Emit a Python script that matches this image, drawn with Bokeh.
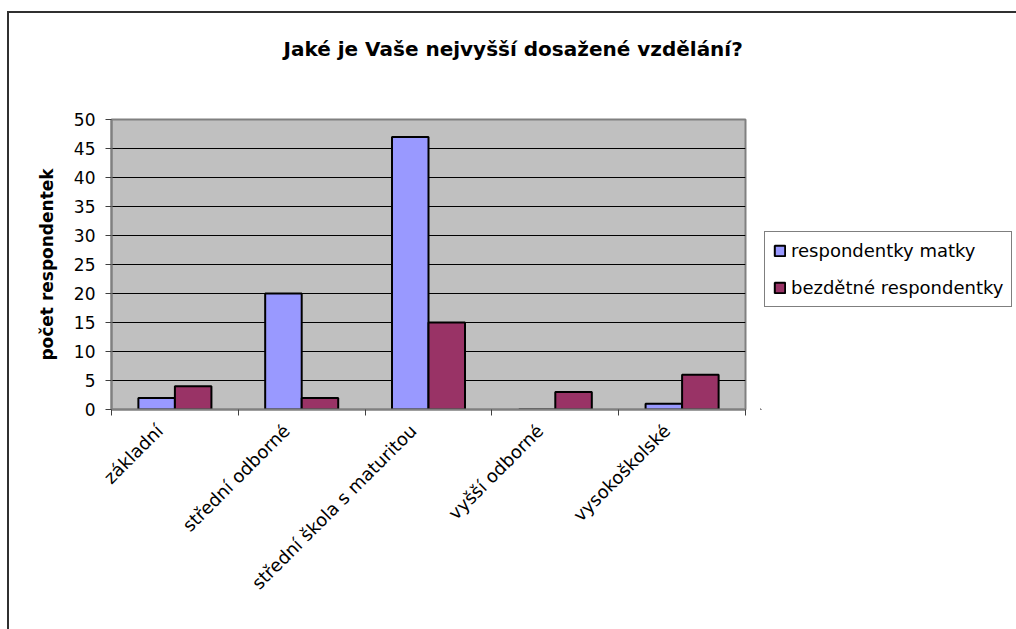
import math
from bokeh.plotting import figure
from bokeh.layouts import row
from bokeh.models import (Range1d, FixedTicker, Legend, LegendItem,
                          ColumnDataSource)
from bokeh.embed import file_html
from bokeh.resources import INLINE

categories = ["základní", "střední odborné", "střední škola s maturitou",
              "vyšší odborné", "vysokoškolské"]
matky = [2, 20, 47, 0, 1]
bezdetne = [4, 2, 15, 3, 6]
series_names = ["respondentky matky", "bezdětné respondentky"]
y_ticks = [0, 5, 10, 15, 20, 25, 30, 35, 40, 45, 50]
title_text = "Jaké je Vaše nejvyšší dosažené vzdělání?"

FONT = "DejaVu Sans"
BLUE = "#9999FF"
RED = "#993366"
BAR_W = 0.288
LABEL_SHIFT = 0.12
BORDER = "2px solid #303030"

p = figure(width=760, height=629, output_backend="svg", toolbar_location=None,
           x_range=Range1d(0.5, 5.5), y_range=Range1d(0, 50),
           min_border_left=111, min_border_right=15,
           min_border_top=119, min_border_bottom=220)
p.background_fill_color = "#C0C0C0"
p.border_fill_color = "white"
p.outline_line_color = "#808080"
p.outline_line_width = 2

# title: extra blank lines push the text up into the chart-area header
p.title.text = title_text + "\n \n "
p.title.text_font = FONT
p.title.text_font_size = "20px"
p.title.text_font_style = "bold"
p.title.text_color = "black"
p.title.align = "left"
p.title.offset = 172
p.title.vertical_align = "top"
p.title.standoff = 18

idx = list(range(1, len(categories) + 1))
src_a = ColumnDataSource(dict(x=[i - BAR_W / 2 for i in idx], top=matky))
src_b = ColumnDataSource(dict(x=[i + BAR_W / 2 for i in idx], top=bezdetne))
r1 = p.vbar(x="x", top="top", width=BAR_W, source=src_a, fill_color=BLUE,
            line_color="black", line_width=2)
r2 = p.vbar(x="x", top="top", width=BAR_W, source=src_b, fill_color=RED,
            line_color="black", line_width=2)

# y axis
p.yaxis.ticker = FixedTicker(ticks=y_ticks)
p.yaxis.major_tick_out = 6
p.yaxis.major_tick_in = 0
p.yaxis.minor_tick_out = 0
p.yaxis.minor_tick_in = 0
p.yaxis.axis_line_color = "#808080"
p.yaxis.axis_line_width = 2
p.yaxis.major_tick_line_color = "#404040"
p.yaxis.major_label_text_font = FONT
p.yaxis.major_label_text_font_size = "17px"
p.yaxis.major_label_text_color = "black"
p.yaxis.major_label_standoff = 10
p.yaxis.axis_label = "počet respondentek"
p.yaxis.axis_label_text_font = FONT
p.yaxis.axis_label_text_font_size = "17px"
p.yaxis.axis_label_text_font_style = "bold"
p.yaxis.axis_label_text_color = "black"
p.yaxis.axis_label_standoff = 14

# x axis: labels near category centres, tick marks between categories
label_pos = [round(i - LABEL_SHIFT, 2) for i in idx]
p.xaxis.ticker = FixedTicker(ticks=label_pos,
                             minor_ticks=[i - 0.5 for i in idx] + [idx[-1] + 0.5])
p.xaxis.major_label_overrides = {lp: c for lp, c in zip(label_pos, categories)}
p.xaxis.major_tick_out = 0
p.xaxis.major_tick_in = 0
p.xaxis.minor_tick_out = 6
p.xaxis.minor_tick_in = 0
p.xaxis.minor_tick_line_color = "#404040"
p.xaxis.axis_line_color = "#808080"
p.xaxis.axis_line_width = 2
p.xaxis.major_label_orientation = math.pi / 4
p.xaxis.major_label_text_font = FONT
p.xaxis.major_label_text_font_size = "18px"
p.xaxis.major_label_text_color = "black"
p.xaxis.major_label_standoff = 12

p.xgrid.grid_line_color = None
p.ygrid.ticker = FixedTicker(ticks=y_ticks)
p.ygrid.grid_line_color = "black"
p.ygrid.grid_line_width = 1

p.stylesheets = [":host::after { content: ''; position: absolute; left: 7px; top: 11px; "
                 "right: 0px; bottom: 0px; border-left: " + BORDER + "; "
                 "border-top: " + BORDER + "; pointer-events: none; z-index: 10; }"]

# legend panel (second figure to the right of the chart; its frame is
# aligned with the chart's frame by the row layout)
p2 = figure(width=256, height=629, output_backend="svg", toolbar_location=None,
            x_range=Range1d(0, 1), y_range=Range1d(0, 1),
            x_axis_location=None, y_axis_location=None, min_border=0)
p2.outline_line_color = None
p2.background_fill_color = "white"
p2.border_fill_color = "white"
p2.xgrid.grid_line_color = None
p2.ygrid.grid_line_color = None
# legend key renderers: one far off-range bar each so the legend can draw its swatch
k1 = p2.vbar(x=[-10], top=[-10], bottom=[-11], width=BAR_W, fill_color=BLUE,
             line_color="black", line_width=2)
k2 = p2.vbar(x=[-10], top=[-10], bottom=[-11], width=BAR_W, fill_color=RED,
             line_color="black", line_width=2)

legend = Legend(items=[LegendItem(label=series_names[0], renderers=[k1]),
                       LegendItem(label=series_names[1], renderers=[k2])],
                location=(4, 102))
legend.label_text_font = FONT
legend.label_text_font_size = "18px"
legend.label_text_color = "black"
legend.glyph_width = 13
legend.glyph_height = 13
legend.label_standoff = 5
legend.spacing = 16
legend.padding = 8
legend.margin = 0
legend.border_line_color = "black"
legend.border_line_width = 1
legend.background_fill_color = "white"
legend.background_fill_alpha = 1
p2.add_layout(legend)
p2.stylesheets = [":host::after { content: ''; position: absolute; left: 0px; top: 11px; "
                  "right: 0px; bottom: 0px; border-top: " + BORDER + "; "
                  "pointer-events: none; z-index: 10; }"]

layout = row(p, p2, spacing=0)
open("out.html", "w").write(file_html(layout, INLINE))
